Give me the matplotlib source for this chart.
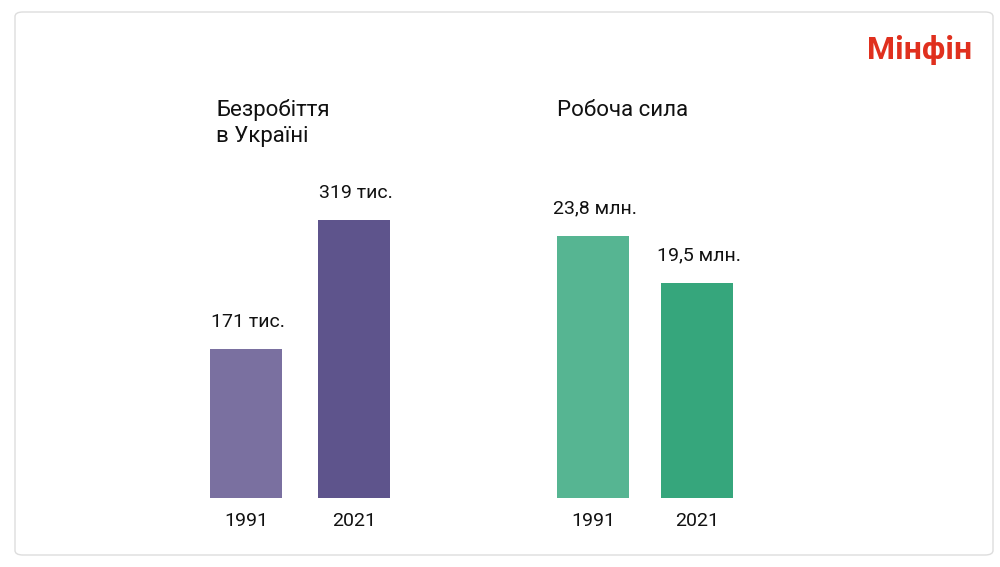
import matplotlib.pyplot as plt
from matplotlib.patches import FancyBboxPatch

plt.rcParams['font.family'] = ['Roboto', 'DejaVu Sans']

years = ["1991", "2021"]
unemp = [171, 319]
unemp_labels = ["171 тис.", "319 тис."]
labour = [23.8, 19.5]
labour_labels = ["23,8 млн.", "19,5 млн."]

W, H = 1000, 567
fig = plt.figure(figsize=(W / 100, H / 100), dpi=100)
fig.patches.append(FancyBboxPatch((15 / W, 12 / H), 978 / W, 543 / H,
                                  boxstyle="round,pad=0,rounding_size=0.008",
                                  transform=fig.transFigure, fc="white",
                                  ec="#dddddd", lw=1, zorder=-10))

def panel(left, width, vals, labels, colors, ymax):
    ax = fig.add_axes([left / W, 1 - 498 / H, width / W, 348 / H])
    ax.set_zorder(5)
    x = range(len(vals))
    bw = 72 / (width / 2)
    ax.bar(x, vals, width=bw, color=colors)
    for i, v in enumerate(vals):
        ax.text(i + 0.02, v + ymax * 0.053, labels[i], ha="center", va="bottom", fontsize=14, color="#111111")
        ax.text(i, -ymax * 0.04, years[i], ha="center", va="top", fontsize=14, color="#111111")
    ax.set_xlim(-0.5, 1.5)
    ax.set_ylim(0, ymax)
    ax.axis("off")
    return ax

panel(192, 216, unemp, unemp_labels, ["#7a70a0", "#5e548c"], 399.3)
panel(541, 208, labour, labour_labels, ["#56b592", "#36a67c"], 31.6)

fig.text(216 / W, 1 - 123 / H, "Безробіття\nв Україні", fontsize=16, color="#111111",
         va="center", ha="left", linespacing=1.3)
fig.text(557 / W, 1 - 110 / H, "Робоча сила", fontsize=16, color="#111111", va="center", ha="left")
fig.text(972 / W, 1 - 50 / H, "Мінфін", fontsize=23, fontweight="bold", color="#e0301e",
         va="center", ha="right")

fig.savefig("out.png", dpi=100)
